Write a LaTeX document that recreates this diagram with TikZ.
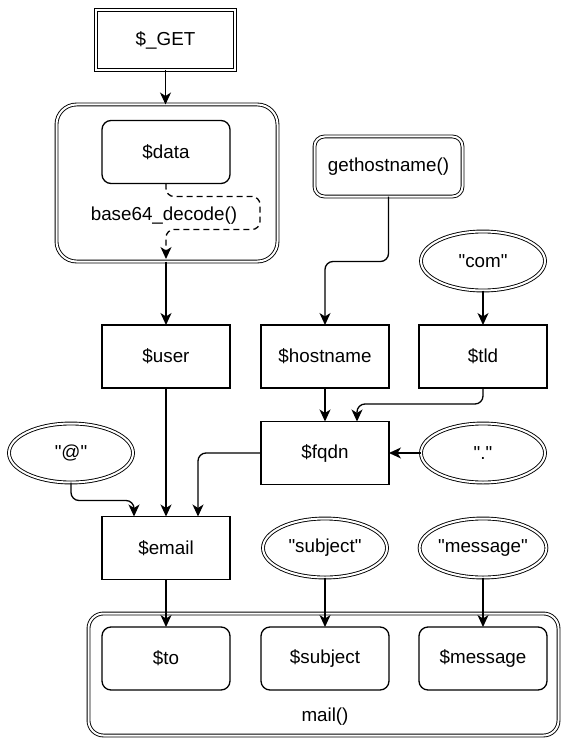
\documentclass[tikz,border=0pt]{standalone}
\usepackage{fontspec}
\setmainfont{Liberation Sans}[Ligatures=TeXOff]
\usetikzlibrary{shapes.geometric,arrows.meta,calc}

\begin{document}
\begin{tikzpicture}[x=1pt,y=-1pt,
  font=\fontsize{18.8}{22}\selectfont,
  every node/.style={inner sep=0pt, outer sep=0pt},
  var/.style={draw, line width=1.3pt, rectangle, minimum width=128pt, minimum height=63pt},
  param/.style={var, rounded corners=9pt},
  src/.style={draw, line width=0.9pt, double, double distance=2pt, rectangle,
              minimum width=139pt, minimum height=60pt},
  fn/.style={src, rounded corners=10pt, minimum width=148pt},
  lit/.style={draw, line width=0.9pt, double, double distance=2pt, ellipse,
              minimum width=124pt, minimum height=59pt},
  group/.style={draw, line width=0.9pt, double, double distance=2pt, rectangle},
  flow/.style={line width=1.3pt, -{Stealth[length=12pt,width=11pt,inset=3.5pt]},
               rounded corners=8pt},
]
\fill[white] (0,0) rectangle (561,738);
\useasboundingbox (0,0) rectangle (561,738);

% sources and literals
\node[src] (get) at (165.5,40) {\$\_GET};
\node[group, rounded corners=20pt, minimum width=221pt, minimum height=157pt] (b64) at (167,183) {};
\node[param] (data) at (166,152) {\$data};
\node (declabel) at (164,216) {base64\_decode()};
\node[fn] (gethost) at (388.5,166.5) {gethostname()};
\node[lit] (com) at (483,261) {"com"};

% variables
\node[var] (user) at (166,356.5) {\$user};
\node[var] (host) at (325,356.5) {\$hostname};
\node[var] (tld) at (483,356.5) {\$tld};
\node[var] (fqdn) at (325,453) {\$fqdn};
\node[lit] (dot) at (483,453) {"."};
\node[lit] (at) at (71,453) {"@"};
\node[var] (email) at (166,548) {\$email};
\node[lit] (subjq) at (325,548) {"subject"};
\node[lit] (msgq) at (483,548) {"message"};

% mail() call with its parameters
\node[group, rounded corners=15pt, minimum width=470pt, minimum height=122pt] (mail) at (323.5,674.5) {};
\node[param] (to) at (166,658.5) {\$to};
\node[param] (subject) at (325,658.5) {\$subject};
\node[param] (message) at (483,658.5) {\$message};
\node (maillabel) at (325,717) {mail()};

% bend points
\coordinate (decA) at ($(data.south)+(0,13)$);
\coordinate (decB) at ($(decA)+(94,0)$);
\coordinate (decC) at ($(decB)+(0,33)$);
\coordinate (decD) at ($(decC)+(-94,0)$);
\coordinate (decEnd) at (166,259);
\coordinate (hostmid) at (0,261.5);
\coordinate (tldmid) at (0,404);
\coordinate (atmid) at (0,500.5);
\coordinate (fqdnIn) at ($(fqdn.north)+(32,0)$);
\coordinate (emailL) at ($(email.north)+(-32,0)$);
\coordinate (emailR) at ($(email.north)+(32,0)$);

% connectors
\draw[flow] (get.south) -- (get.south |- b64.north);
\draw[flow, dash pattern=on 6pt off 4pt]
  (data.south) -- (decA) -- (decB) -- (decC) -- (decD) -- (decEnd);
\draw[flow] (user.north |- b64.south) -- (user.north);
\draw[flow] (gethost.south) -- (gethost.south |- hostmid) -| (host.north);
\draw[flow] (com.south) -- (tld.north);
\draw[flow] (host.south) -- (fqdn.north);
\draw[flow] (tld.south) -- (tld.south |- tldmid) -| (fqdnIn);
\draw[flow] (dot.west) -- (fqdn.east);
\draw[flow] (fqdn.west) -| (emailR);
\draw[flow] (user.south) -- (email.north);
\draw[flow] (at.south) -- (at.south |- atmid) -| (emailL);
\draw[flow] (email.south) -- (to.north);
\draw[flow] (subjq.south) -- (subject.north);
\draw[flow] (msgq.south) -- (message.north);
\end{tikzpicture}
\end{document}
